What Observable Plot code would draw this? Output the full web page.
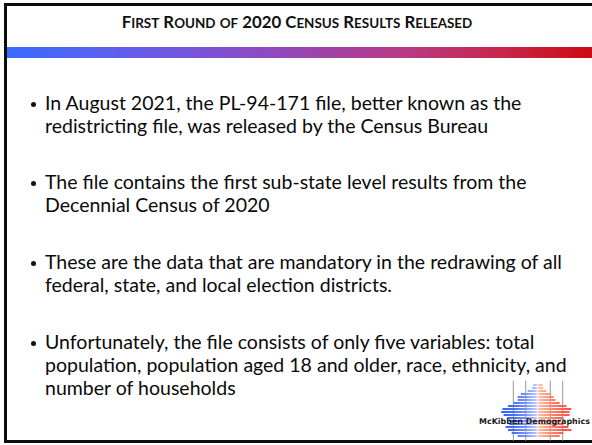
<!DOCTYPE html>
<html><head><meta charset="utf-8">
<script src="https://cdn.jsdelivr.net/npm/d3@7"></script>
<script src="https://cdn.jsdelivr.net/npm/@observablehq/plot@0.6"></script>
<style>
html,body{margin:0;padding:0;background:#fff;}
#slide{position:relative;width:592px;height:445px;overflow:hidden;background:#fff;font-family:Lato,"Open Sans",sans-serif;color:#0a0a0a;}
#frame{position:absolute;left:4px;top:3px;width:640px;height:434px;border:3px solid #0d0d0d;border-right:none;}
#band{position:absolute;left:7px;top:47px;width:585px;height:10.5px;background:linear-gradient(to right,#3a6bff 0%,#6a5ae6 25%,#9547b8 48%,#b83a86 68%,#c82548 85%,#cc0a12 100%);}
#title{position:absolute;top:14px;white-space:nowrap;font-weight:700;font-size:16px;line-height:16px;color:#111;}
#title .sc{font-size:0.8em;text-transform:uppercase;}
.line{position:absolute;left:45px;white-space:nowrap;font-size:17px;line-height:23px;}
.dot{position:absolute;width:5px;height:5px;border-radius:50%;background:#111;}
#logo{position:absolute;left:470px;top:379px;}
#logoLabel{position:absolute;white-space:nowrap;font-family:"DejaVu Sans",sans-serif;font-weight:700;font-size:9px;line-height:10px;color:#1a1a1a;}
</style></head>
<body>
<div id="slide">
  <div id="frame"></div>
  <div id="band"></div>
  <div id="title"></div>
  <div id="logo"></div>
  <div id="logoLabel"></div>
</div>
<script>
// ---- slide text ----
const titleText = "First Round of 2020 Census Results Released";
const bullet1 = ["In August 2021, the PL-94-171 file, better known as the", "redistricting file, was released by the Census Bureau"];
const bullet2 = ["The file contains the first sub-state level results from the", "Decennial Census of 2020"];
const bullet3 = ["These are the data that are mandatory in the redrawing of all", "federal, state, and local election districts."];
const bullet4 = ["Unfortunately, the file consists of only five variables: total", "population, population aged 18 and older, race, ethnicity, and", "number of households"];
const logoText = "McKibben Demographics";

// ---- logo population pyramid (percent of population) ----
const ageGroups = ["85+","80-84","75-79","70-74","65-69","60-64","55-59","50-54","45-49","40-44","35-39","30-34","25-29","20-24","15-19","10-14","5-9","0-4"];
const male   = [0.35,0.45,0.8,1.35,1.6,1.6,1.95,2.4,2.85,2.95,2.75,2.45,2.3,2.3,2.6,2.4,2.1,1.6];
const female = [0.4,0.45,0.7,1.1,1.3,1.45,1.8,2.35,2.75,2.6,2.6,2.1,1.9,2.1,2.5,2.75,2.1,1.8];
const gridTicks = [-2,-1,1,2];

const slide = document.getElementById("slide");
function fit(el, target){
  const w = el.getBoundingClientRect().width;
  const fs = parseFloat(getComputedStyle(el).fontSize);
  el.style.fontSize = (fs*target/w) + "px";
}

// title (small caps built from spans)
const title = document.getElementById("title");
titleText.split(/([a-z]+)/).forEach(part => {
  if (!part) return;
  if (/^[a-z]+$/.test(part)) {
    const s = document.createElement("span"); s.className = "sc"; s.textContent = part; title.appendChild(s);
  } else title.appendChild(document.createTextNode(part));
});
fit(title, 351);
title.style.left = (297 - title.getBoundingClientRect().width/2) + "px";

// bullets
const bullets = [bullet1, bullet2, bullet3, bullet4];
const firstY = 103, bulletGap = 79.7, lineGap = 23;
let fs = null;
bullets.forEach((lines, bi) => {
  const cy = firstY + bi*bulletGap;
  const dot = document.createElement("div");
  dot.className = "dot";
  dot.style.left = (33 - 2.5) + "px";
  dot.style.top = (cy + 1 - 2.5) + "px";
  slide.appendChild(dot);
  lines.forEach((t, li) => {
    const d = document.createElement("div");
    d.className = "line";
    d.textContent = t;
    d.style.top = (cy + li*lineGap - 12.5) + "px";
    slide.appendChild(d);
    if (bi === 0 && li === 0) { fit(d, 477); fs = d.style.fontSize; }
    else d.style.fontSize = fs;
  });
});

// logo pyramid
const rows = ageGroups.flatMap((a, i) => [{age: a, sex: "M", v: -male[i]}, {age: a, sex: "F", v: female[i]}]);
const chart = Plot.plot({
  width: 122, height: 63,
  marginLeft: 27.5, marginRight: 14.5, marginTop: 1.5, marginBottom: 1.5,
  x: {domain: [-3.25, 3.25], axis: null},
  y: {domain: ageGroups, axis: null, padding: 0.22},
  style: {background: "transparent", overflow: "visible"},
  marks: [
    Plot.ruleX(gridTicks, {stroke: "#a8a8a8", strokeWidth: 1.2}),
    Plot.barX(rows.filter(d => d.sex === "M"), {x: "v", y: "age", fill: "url(#gradM)"}),
    Plot.barX(rows.filter(d => d.sex === "F"), {x: "v", y: "age", fill: "url(#gradF)"})
  ]
});
const xs = chart.scale("x");
const defs = d3.select(chart).insert("defs", ":first-child");
function grad(id, x2, stops){
  const g = defs.append("linearGradient").attr("id", id).attr("gradientUnits", "userSpaceOnUse")
    .attr("x1", xs.apply(0)).attr("x2", xs.apply(x2)).attr("y1", 0).attr("y2", 0);
  stops.forEach(([o, c]) => g.append("stop").attr("offset", o).attr("stop-color", c));
}
grad("gradM", -3.2, [[0,"#d8e0ff"],[0.05,"#b4c4ff"],[0.3,"#7893ff"],[0.6,"#4670ff"],[1,"#2f5bff"]]);
grad("gradF", 3.2, [[0,"#ffdcd2"],[0.05,"#ffbba8"],[0.3,"#ff9078"],[0.6,"#ff6256"],[1,"#ff4040"]]);
document.getElementById("logo").appendChild(chart);

const lab = document.getElementById("logoLabel");
lab.textContent = logoText;
fit(lab, 111);
const lr = lab.getBoundingClientRect();
lab.style.left = (534.5 - lr.width/2) + "px";
lab.style.top = (421.7 - lr.height/2) + "px";
</script>
</body></html>
